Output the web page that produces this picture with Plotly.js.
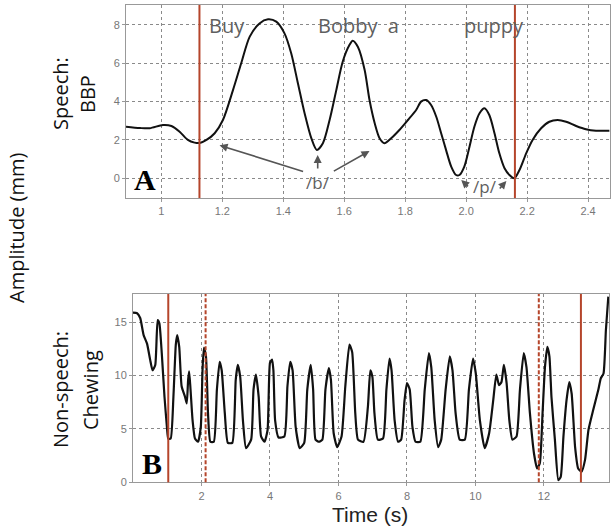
<!DOCTYPE html>
<html>
<head>
<meta charset="utf-8">
<script src="https://cdn.plot.ly/plotly-3.0.1.min.js"></script>
<style>
  html, body { margin: 0; padding: 0; background: #fff; }
  #chart { width: 615px; height: 528px; }
</style>
</head>
<body>
<div id="chart"></div>
<script>
  // Panel A: speech (BBP) amplitude, time in s
  const bbpT = [0.884, 0.93, 0.962, 1.005, 1.033, 1.06, 1.087, 1.109, 1.126, 1.148, 1.175, 1.202,
    1.235, 1.262, 1.29, 1.322, 1.35, 1.377, 1.404, 1.426, 1.448, 1.47, 1.492, 1.51, 1.53, 1.552,
    1.574, 1.595, 1.617, 1.628, 1.645, 1.667, 1.683, 1.7, 1.716, 1.732, 1.754, 1.781, 1.809, 1.836,
    1.852, 1.869, 1.885, 1.902, 1.918, 1.934, 1.951, 1.967, 1.978, 1.994, 2.011, 2.027, 2.044, 2.06,
    2.076, 2.093, 2.109, 2.126, 2.142, 2.158, 2.175, 2.197, 2.218, 2.246, 2.273, 2.3, 2.328, 2.361,
    2.393, 2.426, 2.47];
  const bbpY = [2.69, 2.62, 2.61, 2.78, 2.73, 2.43, 2.0, 1.86, 1.84, 2.0, 2.35, 3.04,
    4.6, 6.0, 7.39, 8.08, 8.29, 8.17, 7.56, 6.52, 4.96, 3.39, 2.09, 1.48, 1.83, 3.04,
    4.6, 6.08, 6.95, 7.18, 6.85, 5.65, 4.08, 2.87, 2.09, 1.83, 2.09, 2.52, 3.04, 3.56,
    4.0, 4.08, 3.82, 3.21, 2.35, 1.48, 0.61, 0.17, 0.17, 0.61, 1.65, 2.69, 3.39, 3.65,
    3.3, 2.35, 1.3, 0.52, 0.17, 0.0, 0.43, 1.3, 2.0, 2.61, 2.95, 3.04, 2.95, 2.73,
    2.56, 2.48, 2.48];

  // Panel B: non-speech (chewing) amplitude
  const chewT = [0, 0.12, 0.21, 0.31, 0.41, 0.5, 0.57, 0.65, 0.72, 0.77, 0.84, 0.92, 0.99, 1.03, 1.1,
    1.18, 1.25, 1.29, 1.35, 1.42, 1.52, 1.57, 1.61, 1.64, 1.68, 1.74, 1.81, 1.9, 1.98, 2.03, 2.07,
    2.13, 2.19, 2.26, 2.36, 2.45, 2.53, 2.59, 2.68, 2.77, 2.9, 3.0, 3.06, 3.13, 3.21, 3.3, 3.45,
    3.52, 3.59, 3.67, 3.74, 3.84, 3.93, 4.0, 4.06, 4.1, 4.15, 4.25, 4.42, 4.51, 4.59, 4.66, 4.75,
    4.87, 5.0, 5.09, 5.19, 5.26, 5.33, 5.43, 5.53, 5.62, 5.72, 5.78, 5.86, 5.96, 6.09, 6.2, 6.32,
    6.4, 6.49, 6.57, 6.73, 6.86, 6.93, 6.99, 7.05, 7.15, 7.3, 7.4, 7.49, 7.55, 7.64, 7.74, 7.83,
    7.93, 8.0, 8.08, 8.16, 8.25, 8.39, 8.52, 8.64, 8.71, 8.81, 8.91, 9.0, 9.13, 9.25, 9.33, 9.42,
    9.54, 9.69, 9.81, 9.93, 10.01, 10.13, 10.27, 10.4, 10.52, 10.61, 10.69, 10.76, 10.83, 10.91,
    10.99, 11.08, 11.2, 11.3, 11.41, 11.49, 11.59, 11.71, 11.8, 11.88, 11.96, 12.03, 12.1, 12.16,
    12.22, 12.32, 12.42, 12.49, 12.57, 12.66, 12.74, 12.81, 12.91, 13.0, 13.1, 13.2, 13.3, 13.44,
    13.59, 13.66, 13.74, 13.81, 13.88];
  const chewY = [15.9, 15.85, 15.4, 13.8, 13.0, 11.5, 10.5, 11.0, 15.2, 14.9, 12.1, 8.0, 5.2, 4.1, 4.1,
    8.0, 12.9, 13.8, 12.7, 9.0, 8.0, 7.4, 9.6, 10.4, 8.7, 5.8, 4.1, 3.8, 5.2, 10.5, 12.6,
    11.8, 6.5, 3.8, 3.8, 8.7, 11.3, 10.5, 6.5, 3.7, 3.7, 9.6, 11.0, 9.9, 5.8, 3.2, 4.0,
    8.7, 10.1, 8.0, 4.3, 3.8, 4.9, 11.2, 11.5, 10.5, 5.8, 4.2, 4.3, 9.0, 11.3, 10.5, 5.2,
    3.2, 3.7, 8.7, 11.0, 8.7, 4.0, 3.8, 4.0, 8.7, 10.7, 9.6, 4.6, 3.3, 4.3, 9.0, 12.9,
    12.2, 6.5, 4.0, 3.8, 7.1, 10.5, 9.9, 6.5, 4.0, 4.1, 8.7, 11.6, 10.5, 5.8, 3.8, 4.0,
    7.7, 9.3, 8.7, 5.2, 3.8, 3.8, 8.7, 12.1, 10.8, 5.8, 3.3, 4.0, 8.7, 11.8, 10.5, 6.5,
    4.0, 4.0, 8.7, 11.6, 10.2, 5.8, 3.2, 4.6, 7.7, 10.1, 9.1, 9.4, 11.0, 9.3,
    5.8, 4.0, 4.3, 8.7, 12.1, 10.8, 6.5, 2.7, 1.3, 1.8, 6.5, 10.8, 12.7, 11.8,
    8.0, 4.0, 0.2, 0.5, 4.3, 7.7, 9.4, 8.3, 3.3, 1.3, 1.0, 2.1, 4.9, 6.8,
    8.7, 9.75, 10.2, 14.3, 17.4];

  // event markers (s)
  const bbpMarks = [1.125, 2.16];
  const chewSolid = [1.03, 13.08];
  const chewDashed = [2.12, 11.85];

  // tick labels
  const topTickVals = [1, 1.2, 1.4, 1.6, 1.8, 2.0, 2.2, 2.4];
  const topTickText = ["1", "1.2", "1.4", "1.6", "1.8", "2.0", "2.2", "2.4"];
  const topYTicks = [0, 2, 4, 6, 8];
  const botTickVals = [2, 4, 6, 8, 10, 12];
  const botYTicks = [0, 5, 10, 15];

  // words of the sentence and their positions (time, amplitude)
  const words = ["Buy", "Bobby  a", "puppy"];
  const wordT = [1.215, 1.647, 2.09];
  const wordY = [7.95, 7.95, 7.95];

  const RED = "#b5452b";
  const tickFont = { family: "Liberation Sans, Arial, sans-serif", size: 11, color: "#777" };
  const labelFont = { family: "Open Sans, sans-serif", size: 20, color: "#111" };

  function axisStyle(extra) {
    return Object.assign({
      showgrid: true, gridcolor: "#8a8a8a", gridwidth: 1, griddash: "3px,3px",
      showline: true, mirror: true, linecolor: "#999", linewidth: 1,
      ticks: "outside", ticklen: 3, tickcolor: "#999",
      zeroline: false, tickfont: tickFont, tickmode: "array"
    }, extra);
  }

  const data = [
    { type: "scatter", mode: "lines", x: bbpT, y: bbpY, xaxis: "x", yaxis: "y",
      line: { color: "#111", width: 2, shape: "spline", smoothing: 0.8 }, hoverinfo: "skip" },
    { type: "scatter", mode: "lines", x: chewT, y: chewY, xaxis: "x2", yaxis: "y2",
      line: { color: "#111", width: 2.2, shape: "spline", smoothing: 0.5 }, hoverinfo: "skip" }
  ];

  const shapes = [];
  bbpMarks.forEach(t => shapes.push({ type: "line", xref: "x", yref: "y domain", x0: t, x1: t, y0: 0, y1: 1,
    line: { color: RED, width: 2 } }));
  chewSolid.forEach(t => shapes.push({ type: "line", xref: "x2", yref: "y2 domain", x0: t, x1: t, y0: 0, y1: 1,
    line: { color: RED, width: 2 } }));
  chewDashed.forEach(t => shapes.push({ type: "line", xref: "x2", yref: "y2 domain", x0: t, x1: t, y0: 0, y1: 1,
    line: { color: RED, width: 2, dash: "4px,2px" } }));

  const annotations = [];
  words.forEach((w, i) => annotations.push({ xref: "x", yref: "y", x: wordT[i], y: wordY[i], text: w,
    showarrow: false, font: { family: "Open Sans, sans-serif", size: 20, color: "#5f5f5f" } }));

  // /b/ and /p/ arrows
  const arrowColor = "#555";
  function arrow(tx, ty, hx, hy) {
    return { xref: "x", yref: "y", axref: "x", ayref: "y", x: hx, y: hy, ax: tx, ay: ty, text: "",
      showarrow: true, arrowhead: 2, arrowsize: 1, arrowwidth: 1.6, arrowcolor: arrowColor };
  }
  annotations.push(arrow(1.47, 0.33, 1.191, 1.72));
  annotations.push(arrow(1.513, 0.43, 1.513, 1.21));
  annotations.push(arrow(1.561, 0.33, 1.683, 1.42));
  annotations.push(arrow(2.011, -0.5, 1.984, -0.09));
  annotations.push(arrow(2.106, -0.61, 2.132, -0.14));
  annotations.push({ xref: "x", yref: "y", x: 1.513, y: -0.22, text: "/b/", showarrow: false,
    font: { family: "Open Sans, sans-serif", size: 17, color: "#5f5f5f" } });
  annotations.push({ xref: "x", yref: "y", x: 2.063, y: -0.43, text: "/p/", showarrow: false,
    font: { family: "Open Sans, sans-serif", size: 17, color: "#5f5f5f" } });

  // panel letters
  const letterFont = { family: "Liberation Serif, Times New Roman, serif", size: 30, color: "#000" };
  annotations.push({ xref: "x", yref: "y", x: 0.945, y: -0.09, text: "<b>A</b>", showarrow: false, font: letterFont });
  annotations.push({ xref: "x2", yref: "y2", x: 0.55, y: 1.8, text: "<b>B</b>", showarrow: false, font: letterFont });

  // side labels (pixel centres converted to paper fractions)
  function sideLabel(px, py, text, angle, font) {
    return { xref: "paper", yref: "paper", x: px / 615, y: 1 - py / 528, text: text,
      xanchor: "center", yanchor: "middle", textangle: angle, showarrow: false, font: font };
  }
  annotations.push(sideLabel(61, 94, "Speech:", -90, labelFont));
  annotations.push(sideLabel(88, 94, "BBP", -90, labelFont));
  annotations.push(sideLabel(16, 228, "Amplitude (mm)", -90, labelFont));
  annotations.push(sideLabel(60, 390, "Non-speech:", -90, labelFont));
  annotations.push(sideLabel(90, 390, "Chewing", -90, labelFont));
  annotations.push(sideLabel(370, 514, "Time (s)", 0,
    { family: "Liberation Sans, Arial, sans-serif", size: 21, color: "#222" }));

  const layout = {
    width: 615, height: 528,
    margin: { l: 0, r: 0, t: 0, b: 0 },
    paper_bgcolor: "#fff", plot_bgcolor: "#fff",
    showlegend: false,
    xaxis: axisStyle({ domain: [126 / 615, 610 / 615], anchor: "y", range: [0.884, 2.472],
      tickvals: topTickVals, ticktext: topTickText }),
    yaxis: axisStyle({ domain: [1 - 198 / 528, 1 - 5 / 528], anchor: "x", range: [-1.03, 9.04],
      tickvals: topYTicks }),
    xaxis2: axisStyle({ domain: [133 / 615, 609 / 615], anchor: "y2", range: [0, 13.9],
      tickvals: botTickVals }),
    yaxis2: axisStyle({ domain: [1 - 482.3 / 528, 1 - 294 / 528], anchor: "x2", range: [0, 17.65],
      tickvals: botYTicks }),
    shapes: shapes,
    annotations: annotations
  };

  Plotly.newPlot("chart", data, layout, { displayModeBar: false, staticPlot: true });
</script>
</body>
</html>
